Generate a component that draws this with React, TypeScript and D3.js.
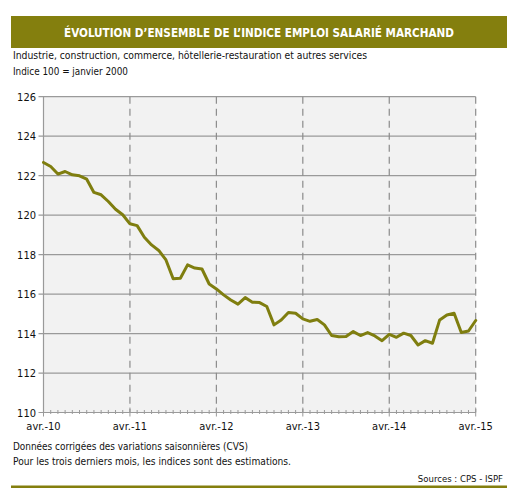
import React from "react";
import * as d3 from "d3";

const startYear = 2010;
const yearLabels = ["avr.-10", "avr.-11", "avr.-12", "avr.-13", "avr.-14", "avr.-15"];
const yTicks = [110, 112, 114, 116, 118, 120, 122, 124, 126];
const indexValues = [
  122.67, 122.46, 122.08, 122.21, 122.04, 121.99, 121.82, 121.15, 121.03, 120.69,
  120.3, 120.02, 119.56, 119.47, 118.88, 118.49, 118.21, 117.73, 116.78, 116.8,
  117.48, 117.32, 117.27, 116.51, 116.26, 115.96, 115.7, 115.49, 115.82, 115.59,
  115.57, 115.37, 114.44, 114.69, 115.07, 115.03, 114.74, 114.62, 114.71, 114.44,
  113.9, 113.84, 113.85, 114.1, 113.9, 114.05, 113.88, 113.64, 113.96, 113.81,
  114.02, 113.9, 113.42, 113.64, 113.51, 114.69, 114.94, 115.03, 114.05, 114.13,
  114.66,
];

const titleText = "ÉVOLUTION D’ENSEMBLE DE L’INDICE EMPLOI SALARIÉ MARCHAND";
const subtitle1 = "Industrie, construction, commerce, hôtellerie-restauration et autres services";
const subtitle2 = "Indice 100 = janvier 2000";
const note1 = "Données corrigées des variations saisonnières (CVS)";
const note2 = "Pour les trois derniers mois, les indices sont des estimations.";
const sourceText = "Sources : CPS - ISPF";

const OLIVE = "#847f0e";
const LINE = "#7f7e0f";
const FONT = "'DejaVu Sans Condensed', 'DejaVu Sans', sans-serif";

export default function App() {
  const W = 516;
  const H = 497;
  const left = 43.5;
  const right = 475.7;
  const top = 96.7;
  const bottom = 412.5;
  const n = indexValues.length;

  const x = d3.scaleLinear().domain([0, n - 1]).range([left, right]);
  const y = d3.scaleLinear().domain([110, 126]).range([bottom, top]);
  const line = d3
    .line<number>()
    .x((_, i) => x(i))
    .y((d) => y(d));

  const yearIdx = yearLabels.map((_, i) => i * 12);
  const months = d3.range(n);

  return (
    <svg
      width={W}
      height={H}
      style={{ position: "absolute", left: 0, top: 0, background: "#fff" }}
      fontFamily={FONT}
    >
      <rect x={0} y={0} width={W} height={H} fill="#fff" />
      <rect x={11} y={16} width={496} height={32} fill={OLIVE} />
      <text
        x={259}
        y={36.5}
        textAnchor="middle"
        fill="#fff"
        fontWeight="bold"
        fontSize={13}
        textLength={390}
        lengthAdjust="spacingAndGlyphs"
      >
        {titleText}
      </text>
      <text x={13} y={59} fontSize={11} fill="#111" textLength={354} lengthAdjust="spacingAndGlyphs">
        {subtitle1}
      </text>
      <text x={13} y={75} fontSize={11} fill="#111" textLength={115} lengthAdjust="spacingAndGlyphs">
        {subtitle2}
      </text>

      <rect x={left} y={top} width={right - left} height={bottom - top} fill="#f2f2f2" />
      {yTicks.map((t) => (
        <g key={t}>
          <line x1={left - 5} x2={right} y1={y(t)} y2={y(t)} stroke="#9a9a9a" strokeWidth={1.2} />
          <text x={36} y={y(t) + 4} textAnchor="end" fontSize={11} fill="#111">
            {t}
          </text>
        </g>
      ))}
      {yearIdx.map((mi, k) =>
        k === 0 ? null : (
          <line
            key={mi}
            x1={x(mi)}
            x2={x(mi)}
            y1={top}
            y2={bottom}
            stroke="#8c8c8c"
            strokeWidth={1.2}
            strokeDasharray="7,5"
          />
        )
      )}
      <line x1={left} x2={left} y1={top} y2={bottom} stroke="#9a9a9a" strokeWidth={1.2} />
      {months.map((m) => (
        <line
          key={m}
          x1={x(m)}
          x2={x(m)}
          y1={bottom + (m % 12 === 0 ? 4 : 1.5)}
          y2={bottom - (m % 12 === 0 ? 5 : 2.5)}
          stroke="#9a9a9a"
          strokeWidth={1}
        />
      ))}
      <line x1={left} x2={right} y1={bottom} y2={bottom} stroke="#9a9a9a" strokeWidth={1.2} />
      {yearLabels.map((lab, k) => (
        <text key={lab} x={x(yearIdx[k])} y={430} textAnchor="middle" fontSize={11} fill="#111">
          {lab}
        </text>
      ))}

      <path
        d={line(indexValues) || ""}
        fill="none"
        stroke={LINE}
        strokeWidth={3}
        strokeLinejoin="round"
        strokeLinecap="round"
      />

      <text x={13} y={450} fontSize={10.5} fill="#111" textLength={235} lengthAdjust="spacingAndGlyphs">
        {note1}
      </text>
      <text x={13} y={465} fontSize={10.5} fill="#111" textLength={278} lengthAdjust="spacingAndGlyphs">
        {note2}
      </text>
      <text x={503} y={482} fontSize={9.5} fill="#111" textAnchor="end">
        {sourceText}
      </text>
      <rect x={11} y={485.5} width={496} height={2.5} fill={OLIVE} />
    </svg>
  );
}
